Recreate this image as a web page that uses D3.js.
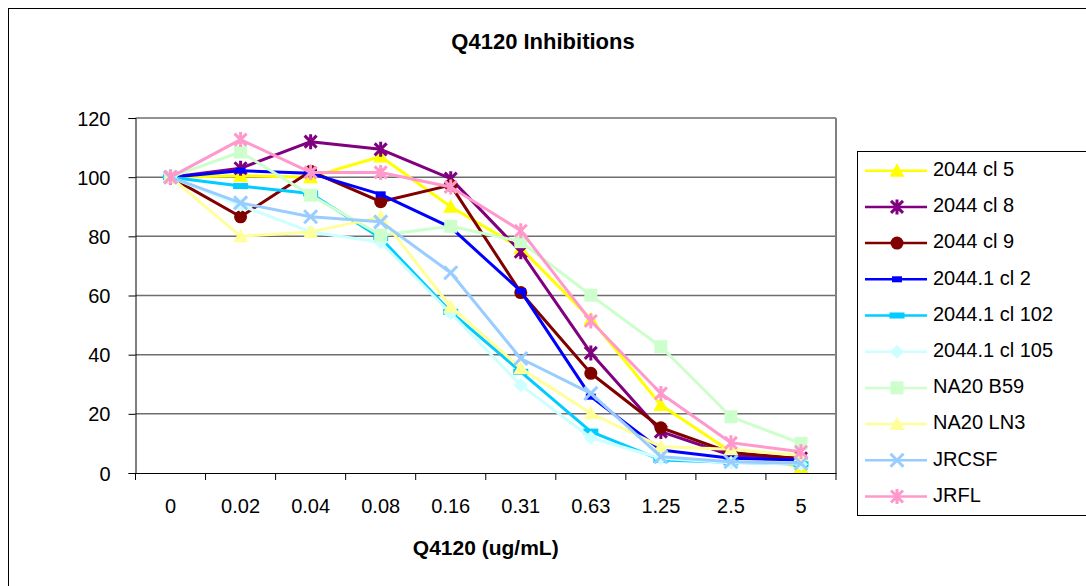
<!DOCTYPE html>
<html><head><meta charset="utf-8">
<script src="https://cdn.jsdelivr.net/npm/d3@7"></script>
<style>
html,body{margin:0;padding:0;background:#fff;}
svg{display:block;font-family:"Liberation Sans",Arial,sans-serif;}
</style></head>
<body><svg id="c" width="1086" height="586"></svg>
<script>
const categories = ["0","0.02","0.04","0.08","0.16","0.31","0.63","1.25","2.5","5"];
const yTicks = [0,20,40,60,80,100,120];
const seriesNames = ["2044 cl 5","2044 cl 8","2044 cl 9","2044.1 cl 2","2044.1 cl 102","2044.1 cl 105","NA20 B59","NA20 LN3","JRCSF","JRFL"];
const seriesColors = ["#FFFF00","#800080","#800000","#0000FF","#00CCFF","#CCFFFF","#CCFFCC","#FFFF99","#99CCFF","#FF99CC"];
const seriesMarkers = ["triangle","star","circle","shortbar","longbar","diamond","square","triangle","x","star"];
const v_cl5   = [100,100.5,100,107,90,76,52,23,7.2,2];
const v_cl8   = [100,103,112,109.4,99.5,74.8,40.6,14,6,5];
const v_cl9   = [100,86.6,102,91.7,97.3,61,33.7,15.3,6.9,4.8];
const v_cl2   = [100,102.2,101.3,94.2,83,61.5,25.8,7.8,5,4.4];
const v_cl102 = [100,97,94.5,79.4,54.5,34.2,14,4.4,3.6,3];
const v_cl105 = [100,90.5,81.5,78,54,29.7,11.9,5,3.5,3];
const v_b59   = [100,108.5,93.9,80.4,83.4,78.2,60.1,42.7,19,10];
const v_ln3   = [100,80,81.5,86.5,56.2,35.4,20.2,8.9,8,6];
const v_jrcsf = [100,91.3,86.6,84.9,67.7,38.7,26.9,5.5,3.8,3.3];
const v_jrfl  = [100,112.7,101.6,101.6,96.7,81.9,51.4,26.9,10.2,7.2];
const seriesValues = [v_cl5,v_cl8,v_cl9,v_cl2,v_cl102,v_cl105,v_b59,v_ln3,v_jrcsf,v_jrfl];

const svg = d3.select("#c");
const L = 135.5, R = 836, T = 118, B = 473;
const x = d3.scaleBand().domain(categories).range([L, R]).paddingInner(0).paddingOuter(0);
const y = d3.scaleLinear().domain([0,120]).range([B, T]);
const cx = d => x(d) + x.bandwidth()/2;

// outer border
svg.append("rect").attr("x",8.5).attr("y",8.5).attr("width",1100).attr("height",600)
  .attr("fill","none").attr("stroke","#000").attr("stroke-width",1);

// title
svg.append("text").attr("x",543).attr("y",43).attr("text-anchor","middle").attr("dominant-baseline","middle")
  .attr("font-size",22).attr("font-weight","bold").text("Q4120 Inhibitions");

// gridlines
svg.append("g").selectAll("line").data(yTicks.filter(t=>t>0)).join("line")
  .attr("x1",L).attr("x2",R).attr("y1",d=>y(d)).attr("y2",d=>y(d))
  .attr("stroke","#6e6e6e").attr("stroke-width",1.5);
// right border
svg.append("line").attr("x1",R).attr("x2",R).attr("y1",T).attr("y2",B).attr("stroke","#808080").attr("stroke-width",2);

// y axis
const ya = svg.append("g").attr("transform",`translate(${L},0)`)
  .call(d3.axisLeft(y).tickValues(yTicks).tickSize(7).tickPadding(18).tickFormat(d3.format("d")));
ya.select(".domain").attr("stroke","#000");
ya.selectAll(".tick line").attr("stroke","#000");
ya.selectAll("text").attr("font-size",20).attr("fill","#000").attr("font-family","Liberation Sans, Arial, sans-serif").attr("dy","0.35em");

// x axis
const xa = svg.append("g").attr("transform",`translate(0,${B})`)
  .call(d3.axisBottom(x).tickSize(0).tickPadding(26));
xa.select(".domain").attr("stroke","#000");
xa.selectAll("text").attr("font-size",20).attr("fill","#000").attr("font-family","Liberation Sans, Arial, sans-serif");
// x tick marks at band boundaries
svg.append("g").selectAll("line").data(categories.concat(["__end"])).join("line")
  .attr("x1",(d,i)=> i<categories.length ? x(d) : R).attr("x2",(d,i)=> i<categories.length ? x(d) : R)
  .attr("y1",B).attr("y2",B+7).attr("stroke","#000");

svg.append("text").attr("x",(L+R)/2).attr("y",549).attr("text-anchor","middle").attr("dominant-baseline","middle")
  .attr("font-size",21).attr("font-weight","bold").text("Q4120 (ug/mL)");

function marker(g, type, color) {
  switch(type){
    case "triangle":
      g.append("path").attr("d","M0,-7.5L7.5,6L-7.5,6Z").attr("fill",color); break;
    case "circle":
      g.append("circle").attr("r",6.5).attr("fill",color); break;
    case "shortbar":
      g.append("rect").attr("x",-5).attr("y",-3).attr("width",10).attr("height",6).attr("fill",color); break;
    case "longbar":
      g.append("rect").attr("x",-7.5).attr("y",-3).attr("width",15).attr("height",6).attr("fill",color); break;
    case "diamond":
      g.append("path").attr("d","M0,-7L7,0L0,7L-7,0Z").attr("fill",color); break;
    case "square":
      g.append("rect").attr("x",-6.5).attr("y",-6.5).attr("width",13).attr("height",13).attr("fill",color); break;
    case "x":
      g.append("path").attr("d","M-6.5,-6.5L6.5,6.5M-6.5,6.5L6.5,-6.5").attr("stroke",color).attr("stroke-width",3).attr("fill","none"); break;
    case "star":
      g.append("path").attr("d","M-6,-6L6,6M-6,6L6,-6M0,-7.5L0,7.5").attr("stroke",color).attr("stroke-width",3).attr("fill","none"); break;
  }
}

const line = d3.line().x((d,i)=>cx(categories[i])).y(d=>y(d));
seriesNames.forEach((name, s) => {
  const g = svg.append("g");
  g.append("path").datum(seriesValues[s]).attr("d",line).attr("fill","none")
    .attr("stroke",seriesColors[s]).attr("stroke-width",3).attr("stroke-linejoin","round");
  seriesValues[s].forEach((v,i) => {
    marker(g.append("g").attr("transform",`translate(${cx(categories[i])},${y(v)})`), seriesMarkers[s], seriesColors[s]);
  });
});

// legend
svg.append("rect").attr("x",857.5).attr("y",151.5).attr("width",300).attr("height",364)
  .attr("fill","#fff").attr("stroke","#000").attr("stroke-width",1);
seriesNames.forEach((name,s)=>{
  const yy = 170.7 + s*36.2;
  svg.append("line").attr("x1",865).attr("x2",927).attr("y1",yy).attr("y2",yy)
    .attr("stroke",seriesColors[s]).attr("stroke-width",2.5);
  marker(svg.append("g").attr("transform",`translate(897,${yy})`), seriesMarkers[s], seriesColors[s]);
  svg.append("text").attr("x",933).attr("y",yy).attr("dominant-baseline","middle")
    .attr("font-size",20).text(name);
});
</script></body></html>
